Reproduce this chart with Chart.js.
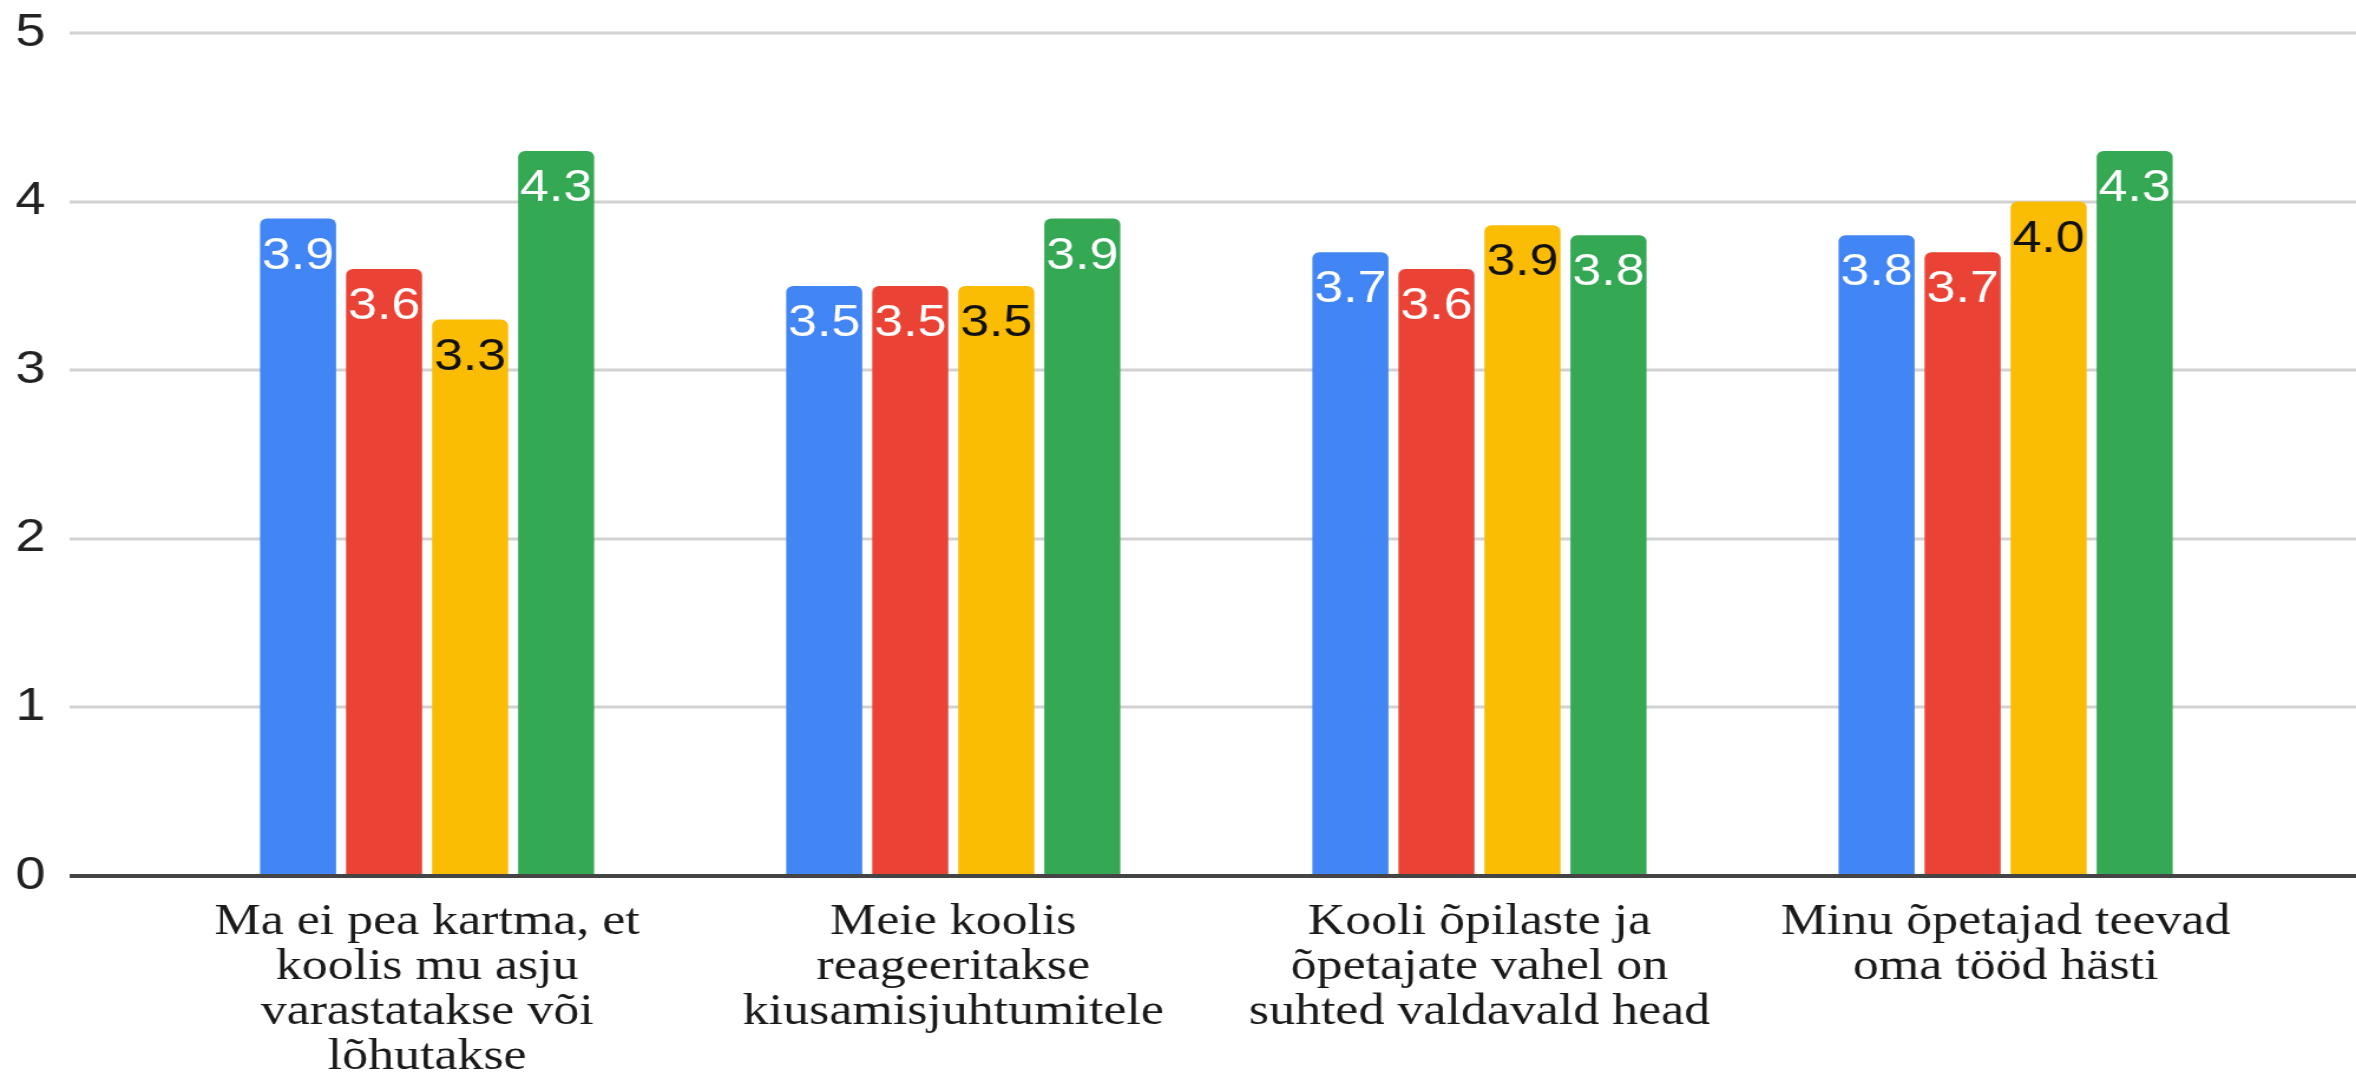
<!DOCTYPE html>
<html lang="et">
<head>
<meta charset="UTF-8">
<title>Gráfico de barras</title>
<script src="https://cdn.jsdelivr.net/npm/chart.js@4.4.1/dist/chart.umd.min.js"></script>
<style>
  html, body { margin: 0; padding: 0; background: #ffffff; overflow: hidden; }
  /* O original parece esticado na horizontal: o canvas é desenhado mais estreito e esticado via CSS */
  #grafico { display: block; width: 2356px !important; height: 1078px !important; }
</style>
</head>
<body>
<canvas id="grafico" width="1997" height="1078"></canvas>
<script>
// Dados do gráfico
const categorias = [
    ["Ma ei pea kartma, et", "koolis mu asju", "varastatakse või", "lõhutakse"],
    ["Meie koolis", "reageeritakse", "kiusamisjuhtumitele"],
    ["Kooli õpilaste ja", "õpetajate vahel on", "suhted valdavald head"],
    ["Minu õpetajad teevad", "oma tööd hästi"]
];
const serieAzul = [3.9, 3.5, 3.7, 3.8];
const serieVermelha = [3.6, 3.5, 3.6, 3.7];
const serieAmarela = [3.3, 3.5, 3.86, 4.0];
const serieVerde = [4.3, 3.9, 3.8, 4.3];
const ticksY = [0, 1, 2, 3, 4, 5];

const cores = ['#4285F4', '#EA4335', '#FBBC04', '#34A853'];
const coresTexto = ['#ffffff', '#ffffff', '#111111', '#ffffff'];

const inicioGrade = 59; // onde as linhas horizontais começam (px do canvas)

// Plugin para desenhar as linhas de grade (passam além da área do gráfico) e os rótulos nas barras
const gradeERotulos = {
    id: 'gradeERotulos',
    beforeDatasetsDraw(chart) {
        const { ctx, scales: { y } } = chart;
        ctx.save();
        ctx.strokeStyle = '#d2d2d2';
        ctx.lineWidth = 3;
        for (const t of ticksY) {
            if (t === 0) continue;
            const py = Math.round(y.getPixelForValue(t));
            ctx.beginPath();
            ctx.moveTo(inicioGrade, py);
            ctx.lineTo(chart.width, py);
            ctx.stroke();
        }
        ctx.restore();
    },
    afterDatasetsDraw(chart) {
        const { ctx, scales: { y } } = chart;
        ctx.save();
        // Linha do zero, mais escura
        const py0 = Math.round(y.getPixelForValue(0));
        ctx.strokeStyle = '#444444';
        ctx.lineWidth = 4;
        ctx.beginPath();
        ctx.moveTo(inicioGrade, py0);
        ctx.lineTo(chart.width, py0);
        ctx.stroke();

        // Valores dentro das barras
        ctx.font = '44px "Liberation Sans", Arial, sans-serif';
        ctx.textAlign = 'center';
        ctx.textBaseline = 'middle';
        chart.data.datasets.forEach((ds, i) => {
            const meta = chart.getDatasetMeta(i);
            meta.data.forEach((barra, j) => {
                const texto = ds.data[j].toFixed(1);
                ctx.lineWidth = 4;
                ctx.strokeStyle = cores[i];
                ctx.strokeText(texto, barra.x, barra.y + 38);
                ctx.fillStyle = coresTexto[i];
                ctx.fillText(texto, barra.x, barra.y + 38);
            });
        });
        ctx.restore();
    }
};

const ctx = document.getElementById('grafico').getContext('2d');

new Chart(ctx, {
    type: 'bar',
    data: {
        labels: categorias,
        datasets: [serieAzul, serieVermelha, serieAmarela, serieVerde].map((serie, i) => ({
            label: 'Seeria ' + (i + 1),
            data: serie,
            backgroundColor: cores[i],
            borderRadius: { topLeft: 6, topRight: 6, bottomLeft: 0, bottomRight: 0 },
            borderSkipped: false,
            categoryPercentage: 0.654,
            barPercentage: 0.884
        }))
    },
    options: {
        responsive: false,
        animation: false,
        devicePixelRatio: 1,
        layout: { padding: { top: 33, right: 74, left: 13, bottom: 0 } },
        plugins: {
            legend: { display: false },
            tooltip: { enabled: false }
        },
        scales: {
            x: {
                grid: { display: false, drawTicks: false },
                border: { display: false },
                ticks: {
                    autoSkip: false,
                    maxRotation: 0,
                    padding: 24,
                    color: '#1a1a1a',
                    font: { family: '"Liberation Serif", "Times New Roman", serif', size: 44, lineHeight: 1.02 }
                },
                afterFit(scale) { scale.height = 202; }
            },
            y: {
                min: 0,
                max: 5,
                grid: { display: false, drawTicks: false },
                border: { display: false },
                ticks: {
                    stepSize: 1,
                    padding: 0,
                    crossAlign: 'far',
                    color: '#222222',
                    font: { family: '"Liberation Sans", Arial, sans-serif', size: 46 }
                },
                afterFit(scale) { scale.width = 126; }
            }
        }
    },
    plugins: [gradeERotulos]
});
</script>
</body>
</html>
